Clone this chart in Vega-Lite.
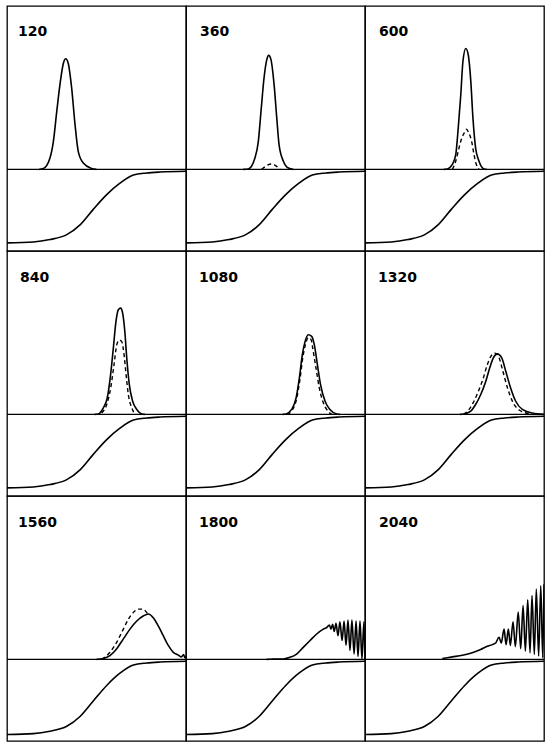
{
  "$schema": "https://vega.github.io/schema/vega-lite/v6.json",
  "background": "white",
  "padding": {"left": 5, "top": 5, "right": 2, "bottom": 2},
  "bounds": "flush",
  "spacing": 0,
  "columns": 3,
  "data": {"values": [
    {"panel":120,"series":"sigmoid","x":0,"y":-0.9},{"panel":120,"series":"sigmoid","x":14.7,"y":-0.89},{"panel":120,"series":"sigmoid","x":24,"y":-0.86},{"panel":120,"series":"sigmoid","x":33.4,"y":-0.8},{"panel":120,"series":"sigmoid","x":40.8,"y":-0.68},{"panel":120,"series":"sigmoid","x":48.2,"y":-0.49},{"panel":120,"series":"sigmoid","x":55.7,"y":-0.31},{"panel":120,"series":"sigmoid","x":63.1,"y":-0.17},{"panel":120,"series":"sigmoid","x":70.6,"y":-0.07},{"panel":120,"series":"sigmoid","x":78,"y":-0.045},{"panel":120,"series":"sigmoid","x":85.5,"y":-0.033},{"panel":120,"series":"sigmoid","x":100,"y":-0.024},
    {"panel":360,"series":"sigmoid","x":0,"y":-0.9},{"panel":360,"series":"sigmoid","x":14.7,"y":-0.89},{"panel":360,"series":"sigmoid","x":24,"y":-0.86},{"panel":360,"series":"sigmoid","x":33.4,"y":-0.8},{"panel":360,"series":"sigmoid","x":40.8,"y":-0.68},{"panel":360,"series":"sigmoid","x":48.2,"y":-0.49},{"panel":360,"series":"sigmoid","x":55.7,"y":-0.31},{"panel":360,"series":"sigmoid","x":63.1,"y":-0.17},{"panel":360,"series":"sigmoid","x":70.6,"y":-0.07},{"panel":360,"series":"sigmoid","x":78,"y":-0.045},{"panel":360,"series":"sigmoid","x":85.5,"y":-0.033},{"panel":360,"series":"sigmoid","x":100,"y":-0.024},
    {"panel":600,"series":"sigmoid","x":0,"y":-0.9},{"panel":600,"series":"sigmoid","x":14.7,"y":-0.89},{"panel":600,"series":"sigmoid","x":24,"y":-0.86},{"panel":600,"series":"sigmoid","x":33.4,"y":-0.8},{"panel":600,"series":"sigmoid","x":40.8,"y":-0.68},{"panel":600,"series":"sigmoid","x":48.2,"y":-0.49},{"panel":600,"series":"sigmoid","x":55.7,"y":-0.31},{"panel":600,"series":"sigmoid","x":63.1,"y":-0.17},{"panel":600,"series":"sigmoid","x":70.6,"y":-0.07},{"panel":600,"series":"sigmoid","x":78,"y":-0.045},{"panel":600,"series":"sigmoid","x":85.5,"y":-0.033},{"panel":600,"series":"sigmoid","x":100,"y":-0.024},
    {"panel":840,"series":"sigmoid","x":0,"y":-0.9},{"panel":840,"series":"sigmoid","x":14.7,"y":-0.89},{"panel":840,"series":"sigmoid","x":24,"y":-0.86},{"panel":840,"series":"sigmoid","x":33.4,"y":-0.8},{"panel":840,"series":"sigmoid","x":40.8,"y":-0.68},{"panel":840,"series":"sigmoid","x":48.2,"y":-0.49},{"panel":840,"series":"sigmoid","x":55.7,"y":-0.31},{"panel":840,"series":"sigmoid","x":63.1,"y":-0.17},{"panel":840,"series":"sigmoid","x":70.6,"y":-0.07},{"panel":840,"series":"sigmoid","x":78,"y":-0.045},{"panel":840,"series":"sigmoid","x":85.5,"y":-0.033},{"panel":840,"series":"sigmoid","x":100,"y":-0.024},
    {"panel":1080,"series":"sigmoid","x":0,"y":-0.9},{"panel":1080,"series":"sigmoid","x":14.7,"y":-0.89},{"panel":1080,"series":"sigmoid","x":24,"y":-0.86},{"panel":1080,"series":"sigmoid","x":33.4,"y":-0.8},{"panel":1080,"series":"sigmoid","x":40.8,"y":-0.68},{"panel":1080,"series":"sigmoid","x":48.2,"y":-0.49},{"panel":1080,"series":"sigmoid","x":55.7,"y":-0.31},{"panel":1080,"series":"sigmoid","x":63.1,"y":-0.17},{"panel":1080,"series":"sigmoid","x":70.6,"y":-0.07},{"panel":1080,"series":"sigmoid","x":78,"y":-0.045},{"panel":1080,"series":"sigmoid","x":85.5,"y":-0.033},{"panel":1080,"series":"sigmoid","x":100,"y":-0.024},
    {"panel":1320,"series":"sigmoid","x":0,"y":-0.9},{"panel":1320,"series":"sigmoid","x":14.7,"y":-0.89},{"panel":1320,"series":"sigmoid","x":24,"y":-0.86},{"panel":1320,"series":"sigmoid","x":33.4,"y":-0.8},{"panel":1320,"series":"sigmoid","x":40.8,"y":-0.68},{"panel":1320,"series":"sigmoid","x":48.2,"y":-0.49},{"panel":1320,"series":"sigmoid","x":55.7,"y":-0.31},{"panel":1320,"series":"sigmoid","x":63.1,"y":-0.17},{"panel":1320,"series":"sigmoid","x":70.6,"y":-0.07},{"panel":1320,"series":"sigmoid","x":78,"y":-0.045},{"panel":1320,"series":"sigmoid","x":85.5,"y":-0.033},{"panel":1320,"series":"sigmoid","x":100,"y":-0.024},
    {"panel":1560,"series":"sigmoid","x":0,"y":-0.92},{"panel":1560,"series":"sigmoid","x":14.7,"y":-0.91},{"panel":1560,"series":"sigmoid","x":24,"y":-0.88},{"panel":1560,"series":"sigmoid","x":33.4,"y":-0.82},{"panel":1560,"series":"sigmoid","x":40.8,"y":-0.7},{"panel":1560,"series":"sigmoid","x":48.2,"y":-0.51},{"panel":1560,"series":"sigmoid","x":55.7,"y":-0.32},{"panel":1560,"series":"sigmoid","x":63.1,"y":-0.17},{"panel":1560,"series":"sigmoid","x":70.6,"y":-0.07},{"panel":1560,"series":"sigmoid","x":78,"y":-0.045},{"panel":1560,"series":"sigmoid","x":85.5,"y":-0.033},{"panel":1560,"series":"sigmoid","x":100,"y":-0.024},
    {"panel":1800,"series":"sigmoid","x":0,"y":-0.92},{"panel":1800,"series":"sigmoid","x":14.7,"y":-0.91},{"panel":1800,"series":"sigmoid","x":24,"y":-0.88},{"panel":1800,"series":"sigmoid","x":33.4,"y":-0.82},{"panel":1800,"series":"sigmoid","x":40.8,"y":-0.7},{"panel":1800,"series":"sigmoid","x":48.2,"y":-0.51},{"panel":1800,"series":"sigmoid","x":55.7,"y":-0.32},{"panel":1800,"series":"sigmoid","x":63.1,"y":-0.17},{"panel":1800,"series":"sigmoid","x":70.6,"y":-0.07},{"panel":1800,"series":"sigmoid","x":78,"y":-0.045},{"panel":1800,"series":"sigmoid","x":85.5,"y":-0.033},{"panel":1800,"series":"sigmoid","x":100,"y":-0.024},
    {"panel":2040,"series":"sigmoid","x":0,"y":-0.92},{"panel":2040,"series":"sigmoid","x":14.7,"y":-0.91},{"panel":2040,"series":"sigmoid","x":24,"y":-0.88},{"panel":2040,"series":"sigmoid","x":33.4,"y":-0.82},{"panel":2040,"series":"sigmoid","x":40.8,"y":-0.7},{"panel":2040,"series":"sigmoid","x":48.2,"y":-0.51},{"panel":2040,"series":"sigmoid","x":55.7,"y":-0.32},{"panel":2040,"series":"sigmoid","x":63.1,"y":-0.17},{"panel":2040,"series":"sigmoid","x":70.6,"y":-0.07},{"panel":2040,"series":"sigmoid","x":78,"y":-0.045},{"panel":2040,"series":"sigmoid","x":85.5,"y":-0.033},{"panel":2040,"series":"sigmoid","x":100,"y":-0.024},

    {"panel":120,"series":"solid","x":18,"y":0},{"panel":120,"series":"solid","x":20.3,"y":0.01},{"panel":120,"series":"solid","x":24,"y":0.14},{"panel":120,"series":"solid","x":25.9,"y":0.34},{"panel":120,"series":"solid","x":27.8,"y":0.71},{"panel":120,"series":"solid","x":29.6,"y":1.04},{"panel":120,"series":"solid","x":31.5,"y":1.3},{"panel":120,"series":"solid","x":32.8,"y":1.355},{"panel":120,"series":"solid","x":34.2,"y":1.3},{"panel":120,"series":"solid","x":36.1,"y":1.0},{"panel":120,"series":"solid","x":38,"y":0.55},{"panel":120,"series":"solid","x":39.8,"y":0.22},{"panel":120,"series":"solid","x":42.6,"y":0.077},{"panel":120,"series":"solid","x":47.3,"y":0.01},{"panel":120,"series":"solid","x":50,"y":0},

    {"panel":360,"series":"solid","x":32,"y":0},{"panel":360,"series":"solid","x":34.8,"y":0.005},{"panel":360,"series":"solid","x":38.5,"y":0.14},{"panel":360,"series":"solid","x":40.4,"y":0.34},{"panel":360,"series":"solid","x":41.9,"y":0.71},{"panel":360,"series":"solid","x":43.6,"y":1.12},{"panel":360,"series":"solid","x":45.1,"y":1.34},{"panel":360,"series":"solid","x":46.2,"y":1.395},{"panel":360,"series":"solid","x":47.5,"y":1.34},{"panel":360,"series":"solid","x":49.2,"y":1.04},{"panel":360,"series":"solid","x":50.7,"y":0.63},{"panel":360,"series":"solid","x":52,"y":0.3},{"panel":360,"series":"solid","x":54.4,"y":0.1},{"panel":360,"series":"solid","x":57.2,"y":0.016},{"panel":360,"series":"solid","x":59.9,"y":0},
    {"panel":360,"series":"dashed","x":42.3,"y":0},{"panel":360,"series":"dashed","x":44,"y":0.03},{"panel":360,"series":"dashed","x":45.8,"y":0.055},{"panel":360,"series":"dashed","x":47.5,"y":0.065},{"panel":360,"series":"dashed","x":49.3,"y":0.055},{"panel":360,"series":"dashed","x":51,"y":0.03},{"panel":360,"series":"dashed","x":52.5,"y":0},

    {"panel":600,"series":"solid","x":44,"y":0},{"panel":600,"series":"solid","x":46,"y":0.005},{"panel":600,"series":"solid","x":48.8,"y":0.06},{"panel":600,"series":"solid","x":50.7,"y":0.18},{"panel":600,"series":"solid","x":52.1,"y":0.51},{"panel":600,"series":"solid","x":53.5,"y":0.91},{"panel":600,"series":"solid","x":54.7,"y":1.32},{"panel":600,"series":"solid","x":56.3,"y":1.48},{"panel":600,"series":"solid","x":57.7,"y":1.4},{"panel":600,"series":"solid","x":59.1,"y":1.08},{"panel":600,"series":"solid","x":60.3,"y":0.63},{"panel":600,"series":"solid","x":61.8,"y":0.26},{"panel":600,"series":"solid","x":63.7,"y":0.1},{"panel":600,"series":"solid","x":66.5,"y":0.005},{"panel":600,"series":"solid","x":68,"y":0},
    {"panel":600,"series":"dashed","x":48.8,"y":0},{"panel":600,"series":"dashed","x":50.7,"y":0.1},{"panel":600,"series":"dashed","x":52.5,"y":0.26},{"panel":600,"series":"dashed","x":54,"y":0.38},{"panel":600,"series":"dashed","x":55.3,"y":0.44},{"panel":600,"series":"dashed","x":56.6,"y":0.49},{"panel":600,"series":"dashed","x":58.1,"y":0.44},{"panel":600,"series":"dashed","x":59.6,"y":0.34},{"panel":600,"series":"dashed","x":60.9,"y":0.18},{"panel":600,"series":"dashed","x":62.2,"y":0.06},{"panel":600,"series":"dashed","x":63.7,"y":0},

    {"panel":840,"series":"solid","x":49,"y":0},{"panel":840,"series":"solid","x":51,"y":0.005},{"panel":840,"series":"solid","x":53.8,"y":0.08},{"panel":840,"series":"solid","x":56,"y":0.2},{"panel":840,"series":"solid","x":57.9,"y":0.49},{"panel":840,"series":"solid","x":59.4,"y":0.81},{"panel":840,"series":"solid","x":60.9,"y":1.14},{"panel":840,"series":"solid","x":62.2,"y":1.28},{"panel":840,"series":"solid","x":63.5,"y":1.3},{"panel":840,"series":"solid","x":64.6,"y":1.24},{"panel":840,"series":"solid","x":65.8,"y":1.02},{"panel":840,"series":"solid","x":66.9,"y":0.69},{"panel":840,"series":"solid","x":68.3,"y":0.37},{"panel":840,"series":"solid","x":70.2,"y":0.16},{"panel":840,"series":"solid","x":72.5,"y":0.06},{"panel":840,"series":"solid","x":75.3,"y":0.005},{"panel":840,"series":"solid","x":77,"y":0},
    {"panel":840,"series":"dashed","x":52.9,"y":0.016},{"panel":840,"series":"dashed","x":55.7,"y":0.12},{"panel":840,"series":"dashed","x":57.9,"y":0.32},{"panel":840,"series":"dashed","x":59.8,"y":0.61},{"panel":840,"series":"dashed","x":61.3,"y":0.85},{"panel":840,"series":"dashed","x":62.7,"y":0.91},{"panel":840,"series":"dashed","x":64.1,"y":0.89},{"panel":840,"series":"dashed","x":65.4,"y":0.73},{"panel":840,"series":"dashed","x":66.5,"y":0.49},{"panel":840,"series":"dashed","x":67.8,"y":0.24},{"panel":840,"series":"dashed","x":69.7,"y":0.08},{"panel":840,"series":"dashed","x":71.5,"y":0},

    {"panel":1080,"series":"solid","x":54,"y":0},{"panel":1080,"series":"solid","x":55.9,"y":0.005},{"panel":1080,"series":"solid","x":59,"y":0.06},{"panel":1080,"series":"solid","x":61.5,"y":0.2},{"panel":1080,"series":"solid","x":63.3,"y":0.44},{"panel":1080,"series":"solid","x":65,"y":0.73},{"panel":1080,"series":"solid","x":66.5,"y":0.89},{"panel":1080,"series":"solid","x":68.3,"y":0.975},{"panel":1080,"series":"solid","x":70.2,"y":0.955},{"panel":1080,"series":"solid","x":71.7,"y":0.85},{"panel":1080,"series":"solid","x":73.4,"y":0.61},{"panel":1080,"series":"solid","x":75.2,"y":0.36},{"panel":1080,"series":"solid","x":77.7,"y":0.16},{"panel":1080,"series":"solid","x":80.4,"y":0.06},{"panel":1080,"series":"solid","x":84.2,"y":0.005},{"panel":1080,"series":"solid","x":86,"y":0},
    {"panel":1080,"series":"dashed","x":56.5,"y":0},{"panel":1080,"series":"dashed","x":59.3,"y":0.05},{"panel":1080,"series":"dashed","x":61.8,"y":0.19},{"panel":1080,"series":"dashed","x":63.6,"y":0.42},{"panel":1080,"series":"dashed","x":65.3,"y":0.7},{"panel":1080,"series":"dashed","x":66.8,"y":0.86},{"panel":1080,"series":"dashed","x":68.3,"y":0.94},{"panel":1080,"series":"dashed","x":70,"y":0.91},{"panel":1080,"series":"dashed","x":70.8,"y":0.81},{"panel":1080,"series":"dashed","x":72.6,"y":0.57},{"panel":1080,"series":"dashed","x":74.5,"y":0.32},{"panel":1080,"series":"dashed","x":76.4,"y":0.16},{"panel":1080,"series":"dashed","x":78.6,"y":0.06},{"panel":1080,"series":"dashed","x":81.4,"y":0},

    {"panel":1320,"series":"solid","x":53,"y":0},{"panel":1320,"series":"solid","x":55.3,"y":0.005},{"panel":1320,"series":"solid","x":59.1,"y":0.04},{"panel":1320,"series":"solid","x":61.8,"y":0.12},{"panel":1320,"series":"solid","x":64.6,"y":0.24},{"panel":1320,"series":"solid","x":67.4,"y":0.4},{"panel":1320,"series":"solid","x":69.7,"y":0.57},{"panel":1320,"series":"solid","x":71.7,"y":0.69},{"panel":1320,"series":"solid","x":73.9,"y":0.74},{"panel":1320,"series":"solid","x":76.4,"y":0.69},{"panel":1320,"series":"solid","x":78.6,"y":0.53},{"panel":1320,"series":"solid","x":81.4,"y":0.32},{"panel":1320,"series":"solid","x":84.2,"y":0.16},{"panel":1320,"series":"solid","x":87.9,"y":0.06},{"panel":1320,"series":"solid","x":93.5,"y":0.016},{"panel":1320,"series":"solid","x":100,"y":0},
    {"panel":1320,"series":"dashed","x":55,"y":0},{"panel":1320,"series":"dashed","x":57.8,"y":0.05},{"panel":1320,"series":"dashed","x":60.4,"y":0.14},{"panel":1320,"series":"dashed","x":63.1,"y":0.27},{"panel":1320,"series":"dashed","x":65.9,"y":0.43},{"panel":1320,"series":"dashed","x":68.2,"y":0.6},{"panel":1320,"series":"dashed","x":70.3,"y":0.71},{"panel":1320,"series":"dashed","x":72.5,"y":0.75},{"panel":1320,"series":"dashed","x":74.8,"y":0.7},{"panel":1320,"series":"dashed","x":77,"y":0.53},{"panel":1320,"series":"dashed","x":79.8,"y":0.31},{"panel":1320,"series":"dashed","x":82.6,"y":0.15},{"panel":1320,"series":"dashed","x":86.3,"y":0.05},{"panel":1320,"series":"dashed","x":91.5,"y":0.01},

    {"panel":1560,"series":"solid","x":50,"y":0},{"panel":1560,"series":"solid","x":53.8,"y":0.01},{"panel":1560,"series":"solid","x":57.5,"y":0.045},{"panel":1560,"series":"solid","x":61.3,"y":0.13},{"panel":1560,"series":"solid","x":65,"y":0.25},{"panel":1560,"series":"solid","x":68.7,"y":0.37},{"panel":1560,"series":"solid","x":72.5,"y":0.47},{"panel":1560,"series":"solid","x":76.1,"y":0.53},{"panel":1560,"series":"solid","x":78.9,"y":0.555},{"panel":1560,"series":"solid","x":81.7,"y":0.51},{"panel":1560,"series":"solid","x":84.5,"y":0.41},{"panel":1560,"series":"solid","x":87.3,"y":0.29},{"panel":1560,"series":"solid","x":90.1,"y":0.17},{"panel":1560,"series":"solid","x":92.9,"y":0.086},{"panel":1560,"series":"solid","x":95.7,"y":0.052},{"panel":1560,"series":"solid","x":97.5,"y":0.03},{"panel":1560,"series":"solid","x":98.6,"y":0.06},{"panel":1560,"series":"solid","x":99.4,"y":0.02},{"panel":1560,"series":"solid","x":100,"y":0.04},
    {"panel":1560,"series":"dashed","x":53,"y":0},{"panel":1560,"series":"dashed","x":54.7,"y":0.024},{"panel":1560,"series":"dashed","x":57.5,"y":0.086},{"panel":1560,"series":"dashed","x":61.3,"y":0.21},{"panel":1560,"series":"dashed","x":65,"y":0.37},{"panel":1560,"series":"dashed","x":67.8,"y":0.49},{"panel":1560,"series":"dashed","x":70.6,"y":0.575},{"panel":1560,"series":"dashed","x":73.4,"y":0.615},{"panel":1560,"series":"dashed","x":76.1,"y":0.615},{"panel":1560,"series":"dashed","x":78,"y":0.575},{"panel":1560,"series":"dashed","x":78.9,"y":0.555},

    {"panel":1800,"series":"solid","x":45,"y":0},{"panel":1800,"series":"solid","x":48.8,"y":0.002},{"panel":1800,"series":"solid","x":54.4,"y":0.005},{"panel":1800,"series":"solid","x":58.1,"y":0.024},{"panel":1800,"series":"solid","x":61.8,"y":0.065},{"panel":1800,"series":"solid","x":65.5,"y":0.147},{"panel":1800,"series":"solid","x":69.3,"y":0.23},{"panel":1800,"series":"solid","x":73,"y":0.31},{"panel":1800,"series":"solid","x":76.7,"y":0.37},{"panel":1800,"series":"solid","x":78.6,"y":0.39},{"panel":1800,"series":"solid","x":80.1,"y":0.42},{"panel":1800,"series":"solid","x":81,"y":0.37},{"panel":1800,"series":"solid","x":81.9,"y":0.43},{"panel":1800,"series":"solid","x":82.8,"y":0.34},{"panel":1800,"series":"solid","x":83.8,"y":0.44},{"panel":1800,"series":"solid","x":84.9,"y":0.29},{"panel":1800,"series":"solid","x":86,"y":0.46},{"panel":1800,"series":"solid","x":87.2,"y":0.23},{"panel":1800,"series":"solid","x":88.3,"y":0.47},{"panel":1800,"series":"solid","x":89.4,"y":0.17},{"panel":1800,"series":"solid","x":90.5,"y":0.48},{"panel":1800,"series":"solid","x":91.6,"y":0.11},{"panel":1800,"series":"solid","x":92.7,"y":0.48},{"panel":1800,"series":"solid","x":93.9,"y":0.065},{"panel":1800,"series":"solid","x":95,"y":0.47},{"panel":1800,"series":"solid","x":96.1,"y":0.037},{"panel":1800,"series":"solid","x":97.2,"y":0.47},{"panel":1800,"series":"solid","x":98.3,"y":0.004},{"panel":1800,"series":"solid","x":99.4,"y":0.46},{"panel":1800,"series":"solid","x":100,"y":0.0},

    {"panel":2040,"series":"solid","x":43.2,"y":0.01},{"panel":2040,"series":"solid","x":48.8,"y":0.03},{"panel":2040,"series":"solid","x":54.4,"y":0.05},{"panel":2040,"series":"solid","x":59.9,"y":0.08},{"panel":2040,"series":"solid","x":64.6,"y":0.12},{"panel":2040,"series":"solid","x":68.3,"y":0.16},{"panel":2040,"series":"solid","x":71.1,"y":0.18},{"panel":2040,"series":"solid","x":73,"y":0.2},{"panel":2040,"series":"solid","x":74.9,"y":0.27},{"panel":2040,"series":"solid","x":76.1,"y":0.2},{"panel":2040,"series":"solid","x":77.7,"y":0.37},{"panel":2040,"series":"solid","x":78.8,"y":0.18},{"panel":2040,"series":"solid","x":80.1,"y":0.37},{"panel":2040,"series":"solid","x":81.2,"y":0.17},{"panel":2040,"series":"solid","x":82.7,"y":0.46},{"panel":2040,"series":"solid","x":84,"y":0.155},{"panel":2040,"series":"solid","x":85.6,"y":0.58},{"panel":2040,"series":"solid","x":87,"y":0.13},{"panel":2040,"series":"solid","x":88.3,"y":0.66},{"panel":2040,"series":"solid","x":89.6,"y":0.1},{"panel":2040,"series":"solid","x":90.9,"y":0.73},{"panel":2040,"series":"solid","x":92.2,"y":0.08},{"panel":2040,"series":"solid","x":93.3,"y":0.78},{"panel":2040,"series":"solid","x":94.6,"y":0.06},{"panel":2040,"series":"solid","x":95.7,"y":0.86},{"panel":2040,"series":"solid","x":97,"y":0.04},{"panel":2040,"series":"solid","x":98.2,"y":0.9},{"panel":2040,"series":"solid","x":99.3,"y":0.02},{"panel":2040,"series":"solid","x":100,"y":0.92}
  ]},
  "concat": [
    {"width":179,"height":245,"transform":[{"filter":"datum.panel === 120"}],
     "encoding":{"x":{"field":"x","type":"quantitative","scale":{"domain":[0,100],"nice":false},"axis":null},"y":{"field":"y","type":"quantitative","scale":{"domain":[-1,2],"nice":false,"zero":false},"axis":null}},
     "layer":[
      {"transform":[{"filter":"datum.series === 'sigmoid' && datum.x === 0"}],"mark":{"type":"rule","color":"black","strokeWidth":1.3},"encoding":{"x":null,"y":{"datum":0}}},
      {"transform":[{"filter":"datum.series === 'sigmoid'"}],"mark":{"type":"line","color":"black","strokeWidth":1.6,"interpolate":"monotone","clip":true}},
      {"transform":[{"filter":"datum.series === 'solid'"}],"mark":{"type":"line","color":"black","strokeWidth":1.6,"interpolate":"monotone","clip":true}},
      {"transform":[{"filter":"datum.series === 'dashed'"}],"mark":{"type":"line","color":"black","strokeWidth":1.4,"strokeDash":[4,3],"interpolate":"monotone","clip":true}},
      {"transform":[{"filter":"datum.series === 'sigmoid' && datum.x === 0"}],"mark":{"type":"text","align":"left","baseline":"alphabetic","dx":11,"dy":30,"fontSize":14,"font":"DejaVu Sans","fontWeight":"bold","color":"black"},"encoding":{"x":{"datum":0},"y":{"datum":2},"text":{"field":"panel","type":"nominal"}}}
     ]},
    {"width":179,"height":245,"transform":[{"filter":"datum.panel === 360"}],
     "encoding":{"x":{"field":"x","type":"quantitative","scale":{"domain":[0,100],"nice":false},"axis":null},"y":{"field":"y","type":"quantitative","scale":{"domain":[-1,2],"nice":false,"zero":false},"axis":null}},
     "layer":[
      {"transform":[{"filter":"datum.series === 'sigmoid' && datum.x === 0"}],"mark":{"type":"rule","color":"black","strokeWidth":1.3},"encoding":{"x":null,"y":{"datum":0}}},
      {"transform":[{"filter":"datum.series === 'sigmoid'"}],"mark":{"type":"line","color":"black","strokeWidth":1.6,"interpolate":"monotone","clip":true}},
      {"transform":[{"filter":"datum.series === 'solid'"}],"mark":{"type":"line","color":"black","strokeWidth":1.6,"interpolate":"monotone","clip":true}},
      {"transform":[{"filter":"datum.series === 'dashed'"}],"mark":{"type":"line","color":"black","strokeWidth":1.4,"strokeDash":[4,3],"interpolate":"monotone","clip":true}},
      {"transform":[{"filter":"datum.series === 'sigmoid' && datum.x === 0"}],"mark":{"type":"text","align":"left","baseline":"alphabetic","dx":14,"dy":30,"fontSize":14,"font":"DejaVu Sans","fontWeight":"bold","color":"black"},"encoding":{"x":{"datum":0},"y":{"datum":2},"text":{"field":"panel","type":"nominal"}}}
     ]},
    {"width":179,"height":245,"transform":[{"filter":"datum.panel === 600"}],
     "encoding":{"x":{"field":"x","type":"quantitative","scale":{"domain":[0,100],"nice":false},"axis":null},"y":{"field":"y","type":"quantitative","scale":{"domain":[-1,2],"nice":false,"zero":false},"axis":null}},
     "layer":[
      {"transform":[{"filter":"datum.series === 'sigmoid' && datum.x === 0"}],"mark":{"type":"rule","color":"black","strokeWidth":1.3},"encoding":{"x":null,"y":{"datum":0}}},
      {"transform":[{"filter":"datum.series === 'sigmoid'"}],"mark":{"type":"line","color":"black","strokeWidth":1.6,"interpolate":"monotone","clip":true}},
      {"transform":[{"filter":"datum.series === 'solid'"}],"mark":{"type":"line","color":"black","strokeWidth":1.6,"interpolate":"monotone","clip":true}},
      {"transform":[{"filter":"datum.series === 'dashed'"}],"mark":{"type":"line","color":"black","strokeWidth":1.4,"strokeDash":[4,3],"interpolate":"monotone","clip":true}},
      {"transform":[{"filter":"datum.series === 'sigmoid' && datum.x === 0"}],"mark":{"type":"text","align":"left","baseline":"alphabetic","dx":14,"dy":30,"fontSize":14,"font":"DejaVu Sans","fontWeight":"bold","color":"black"},"encoding":{"x":{"datum":0},"y":{"datum":2},"text":{"field":"panel","type":"nominal"}}}
     ]},
    {"width":179,"height":245,"transform":[{"filter":"datum.panel === 840"}],
     "encoding":{"x":{"field":"x","type":"quantitative","scale":{"domain":[0,100],"nice":false},"axis":null},"y":{"field":"y","type":"quantitative","scale":{"domain":[-1,2],"nice":false,"zero":false},"axis":null}},
     "layer":[
      {"transform":[{"filter":"datum.series === 'sigmoid' && datum.x === 0"}],"mark":{"type":"rule","color":"black","strokeWidth":1.3},"encoding":{"x":null,"y":{"datum":0}}},
      {"transform":[{"filter":"datum.series === 'sigmoid'"}],"mark":{"type":"line","color":"black","strokeWidth":1.6,"interpolate":"monotone","clip":true}},
      {"transform":[{"filter":"datum.series === 'solid'"}],"mark":{"type":"line","color":"black","strokeWidth":1.6,"interpolate":"monotone","clip":true}},
      {"transform":[{"filter":"datum.series === 'dashed'"}],"mark":{"type":"line","color":"black","strokeWidth":1.4,"strokeDash":[4,3],"interpolate":"monotone","clip":true}},
      {"transform":[{"filter":"datum.series === 'sigmoid' && datum.x === 0"}],"mark":{"type":"text","align":"left","baseline":"alphabetic","dx":13,"dy":31,"fontSize":14,"font":"DejaVu Sans","fontWeight":"bold","color":"black"},"encoding":{"x":{"datum":0},"y":{"datum":2},"text":{"field":"panel","type":"nominal"}}}
     ]},
    {"width":179,"height":245,"transform":[{"filter":"datum.panel === 1080"}],
     "encoding":{"x":{"field":"x","type":"quantitative","scale":{"domain":[0,100],"nice":false},"axis":null},"y":{"field":"y","type":"quantitative","scale":{"domain":[-1,2],"nice":false,"zero":false},"axis":null}},
     "layer":[
      {"transform":[{"filter":"datum.series === 'sigmoid' && datum.x === 0"}],"mark":{"type":"rule","color":"black","strokeWidth":1.3},"encoding":{"x":null,"y":{"datum":0}}},
      {"transform":[{"filter":"datum.series === 'sigmoid'"}],"mark":{"type":"line","color":"black","strokeWidth":1.6,"interpolate":"monotone","clip":true}},
      {"transform":[{"filter":"datum.series === 'solid'"}],"mark":{"type":"line","color":"black","strokeWidth":1.6,"interpolate":"monotone","clip":true}},
      {"transform":[{"filter":"datum.series === 'dashed'"}],"mark":{"type":"line","color":"black","strokeWidth":1.4,"strokeDash":[4,3],"interpolate":"monotone","clip":true}},
      {"transform":[{"filter":"datum.series === 'sigmoid' && datum.x === 0"}],"mark":{"type":"text","align":"left","baseline":"alphabetic","dx":13,"dy":31,"fontSize":14,"font":"DejaVu Sans","fontWeight":"bold","color":"black"},"encoding":{"x":{"datum":0},"y":{"datum":2},"text":{"field":"panel","type":"nominal"}}}
     ]},
    {"width":179,"height":245,"transform":[{"filter":"datum.panel === 1320"}],
     "encoding":{"x":{"field":"x","type":"quantitative","scale":{"domain":[0,100],"nice":false},"axis":null},"y":{"field":"y","type":"quantitative","scale":{"domain":[-1,2],"nice":false,"zero":false},"axis":null}},
     "layer":[
      {"transform":[{"filter":"datum.series === 'sigmoid' && datum.x === 0"}],"mark":{"type":"rule","color":"black","strokeWidth":1.3},"encoding":{"x":null,"y":{"datum":0}}},
      {"transform":[{"filter":"datum.series === 'sigmoid'"}],"mark":{"type":"line","color":"black","strokeWidth":1.6,"interpolate":"monotone","clip":true}},
      {"transform":[{"filter":"datum.series === 'solid'"}],"mark":{"type":"line","color":"black","strokeWidth":1.6,"interpolate":"monotone","clip":true}},
      {"transform":[{"filter":"datum.series === 'dashed'"}],"mark":{"type":"line","color":"black","strokeWidth":1.4,"strokeDash":[4,3],"interpolate":"monotone","clip":true}},
      {"transform":[{"filter":"datum.series === 'sigmoid' && datum.x === 0"}],"mark":{"type":"text","align":"left","baseline":"alphabetic","dx":13,"dy":31,"fontSize":14,"font":"DejaVu Sans","fontWeight":"bold","color":"black"},"encoding":{"x":{"datum":0},"y":{"datum":2},"text":{"field":"panel","type":"nominal"}}}
     ]},
    {"width":179,"height":245,"transform":[{"filter":"datum.panel === 1560"}],
     "encoding":{"x":{"field":"x","type":"quantitative","scale":{"domain":[0,100],"nice":false},"axis":null},"y":{"field":"y","type":"quantitative","scale":{"domain":[-1,2],"nice":false,"zero":false},"axis":null}},
     "layer":[
      {"transform":[{"filter":"datum.series === 'sigmoid' && datum.x === 0"}],"mark":{"type":"rule","color":"black","strokeWidth":1.3},"encoding":{"x":null,"y":{"datum":0}}},
      {"transform":[{"filter":"datum.series === 'sigmoid'"}],"mark":{"type":"line","color":"black","strokeWidth":1.6,"interpolate":"monotone","clip":true}},
      {"transform":[{"filter":"datum.series === 'solid'"}],"mark":{"type":"line","color":"black","strokeWidth":1.6,"interpolate":"monotone","clip":true}},
      {"transform":[{"filter":"datum.series === 'dashed'"}],"mark":{"type":"line","color":"black","strokeWidth":1.4,"strokeDash":[4,3],"interpolate":"monotone","clip":true}},
      {"transform":[{"filter":"datum.series === 'sigmoid' && datum.x === 0"}],"mark":{"type":"text","align":"left","baseline":"alphabetic","dx":11,"dy":31,"fontSize":14,"font":"DejaVu Sans","fontWeight":"bold","color":"black"},"encoding":{"x":{"datum":0},"y":{"datum":2},"text":{"field":"panel","type":"nominal"}}}
     ]},
    {"width":179,"height":245,"transform":[{"filter":"datum.panel === 1800"}],
     "encoding":{"x":{"field":"x","type":"quantitative","scale":{"domain":[0,100],"nice":false},"axis":null},"y":{"field":"y","type":"quantitative","scale":{"domain":[-1,2],"nice":false,"zero":false},"axis":null}},
     "layer":[
      {"transform":[{"filter":"datum.series === 'sigmoid' && datum.x === 0"}],"mark":{"type":"rule","color":"black","strokeWidth":1.3},"encoding":{"x":null,"y":{"datum":0}}},
      {"transform":[{"filter":"datum.series === 'sigmoid'"}],"mark":{"type":"line","color":"black","strokeWidth":1.6,"interpolate":"monotone","clip":true}},
      {"transform":[{"filter":"datum.series === 'solid'"}],"mark":{"type":"line","color":"black","strokeWidth":1.6,"interpolate":"monotone","clip":true}},
      {"transform":[{"filter":"datum.series === 'sigmoid' && datum.x === 0"}],"mark":{"type":"text","align":"left","baseline":"alphabetic","dx":13,"dy":31,"fontSize":14,"font":"DejaVu Sans","fontWeight":"bold","color":"black"},"encoding":{"x":{"datum":0},"y":{"datum":2},"text":{"field":"panel","type":"nominal"}}}
     ]},
    {"width":179,"height":245,"transform":[{"filter":"datum.panel === 2040"}],
     "encoding":{"x":{"field":"x","type":"quantitative","scale":{"domain":[0,100],"nice":false},"axis":null},"y":{"field":"y","type":"quantitative","scale":{"domain":[-1,2],"nice":false,"zero":false},"axis":null}},
     "layer":[
      {"transform":[{"filter":"datum.series === 'sigmoid' && datum.x === 0"}],"mark":{"type":"rule","color":"black","strokeWidth":1.3},"encoding":{"x":null,"y":{"datum":0}}},
      {"transform":[{"filter":"datum.series === 'sigmoid'"}],"mark":{"type":"line","color":"black","strokeWidth":1.6,"interpolate":"monotone","clip":true}},
      {"transform":[{"filter":"datum.series === 'solid'"}],"mark":{"type":"line","color":"black","strokeWidth":1.6,"interpolate":"monotone","clip":true}},
      {"transform":[{"filter":"datum.series === 'sigmoid' && datum.x === 0"}],"mark":{"type":"text","align":"left","baseline":"alphabetic","dx":14,"dy":31,"fontSize":14,"font":"DejaVu Sans","fontWeight":"bold","color":"black"},"encoding":{"x":{"datum":0},"y":{"datum":2},"text":{"field":"panel","type":"nominal"}}}
     ]}
  ],
  "config": {
    "view": {"stroke": "black", "strokeWidth": 1.3}
  }
}
